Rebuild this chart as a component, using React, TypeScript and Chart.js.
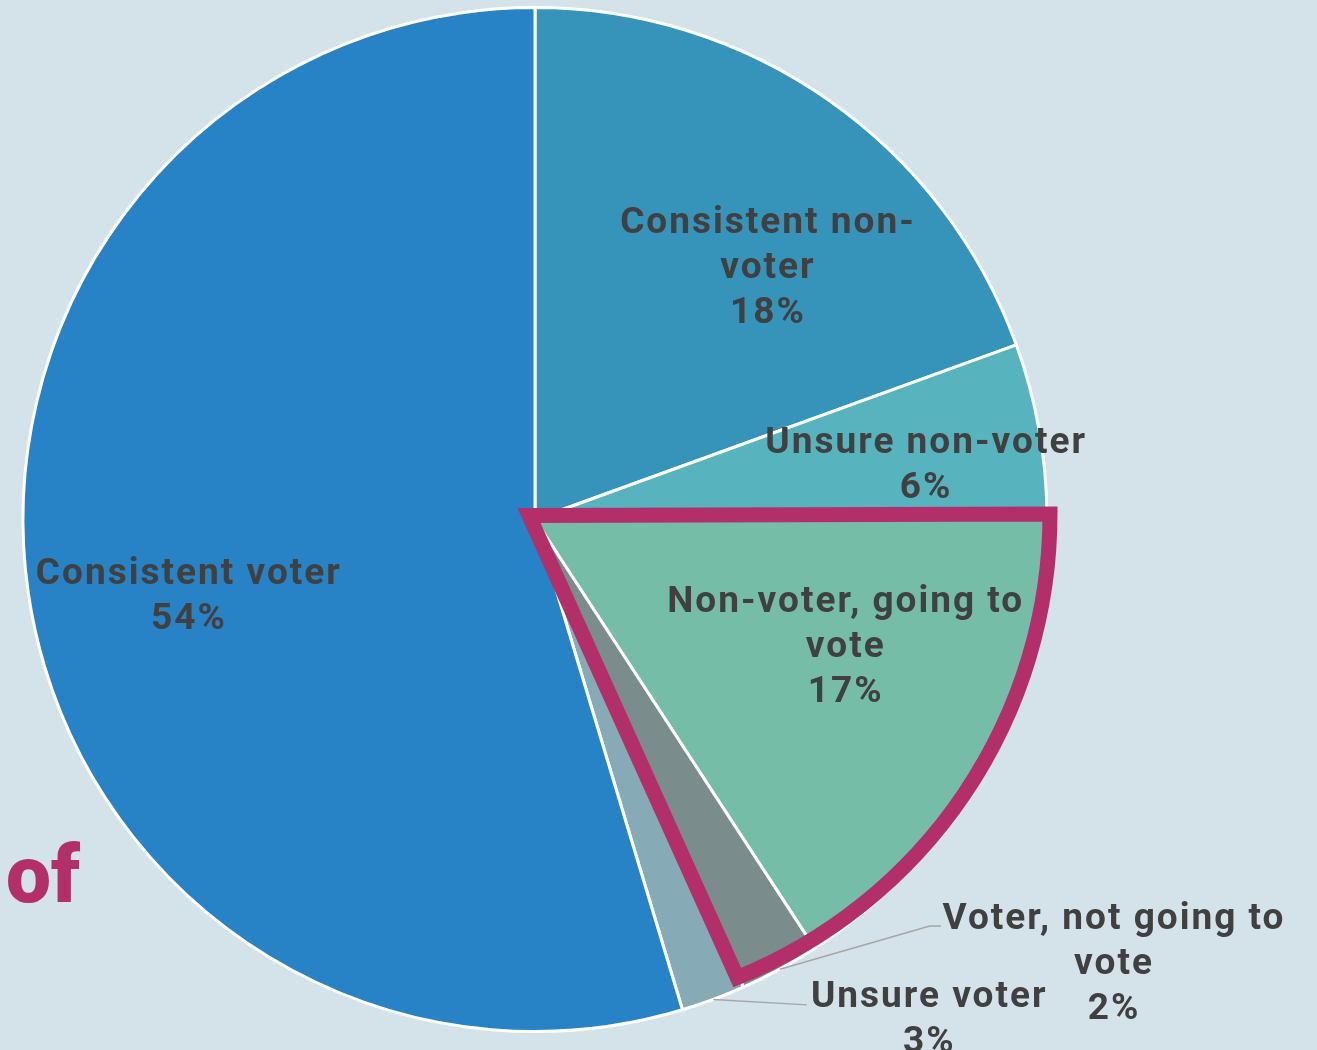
import React, { useEffect, useRef } from 'react';
import { Chart, registerables } from 'chart.js';

Chart.register(...registerables);

// ---- data ----
const categories: string[][] = [
  ['Consistent non-', 'voter'],
  ['Unsure non-voter'],
  ['Non-voter, going to', 'vote'],
  ['Voter, not going to', 'vote'],
  ['Unsure voter'],
  ['Consistent voter'],
];
const shares = [19.46, 5.4, 15.94, 2.53, 2.02, 54.65];
const shareLabels = ['18%', '6%', '17%', '2%', '3%', '54%'];
const sliceColors = ['#3693BA', '#57B4BF', '#76BDA8', '#7A8C8C', '#86ABB7', '#2782C6'];
const sideWord = 'of';

// ---- label placement (fractions of radius, relative to pie centre) ----
const labelPlacement = [
  { fx: 0.453, fy: -0.497 },
  { fx: 0.762, fy: -0.112 },
  { fx: 0.605, fy: 0.243 },
  { fx: 1.129, fy: 0.862, leader: [[0.771, 0.794], [0.793, 0.794]] },
  { fx: 0.768, fy: 0.97, leader: [[0.531, 0.948]] },
  { fx: -0.678, fy: 0.144 },
];

const BG = '#D4E2EA';
const TEXT = '#404040';
const PINK = '#B22F6A';

const labelPlugin = {
  id: 'sliceLabels',
  afterDatasetsDraw(chart: any) {
    const ctx: CanvasRenderingContext2D = chart.ctx;
    const arcs = chart.getDatasetMeta(0).data as any[];
    if (!arcs.length) return;
    const p0 = arcs[0].getProps(['x', 'y', 'outerRadius'], true);
    const cx = p0.x, cy = p0.y, R = p0.outerRadius;

    // highlight outline around "Non-voter, going to vote" + "Voter, not going to vote"
    ctx.save();
    const apexX = cx - 6, apexY = cy - 4;
    const ocx = cx + 15, ocy = cy - 5.5, orad = R - 12;
    const a0 = (90 - 90) * Math.PI / 180;
    const a1 = (158 - 90) * Math.PI / 180;
    ctx.beginPath();
    ctx.moveTo(apexX, apexY);
    ctx.lineTo(ocx + orad * Math.cos(a0), ocy + orad * Math.sin(a0));
    ctx.arc(ocx, ocy, orad, a0, a1, false);
    ctx.closePath();
    ctx.lineWidth = 15;
    ctx.lineJoin = 'miter';
    ctx.miterLimit = 10;
    ctx.strokeStyle = PINK;
    ctx.stroke();
    ctx.restore();

    // labels
    ctx.save();
    ctx.font = 'bold 37px Roboto';
    (ctx as any).letterSpacing = '2px';
    ctx.fillStyle = TEXT;
    ctx.textAlign = 'center';
    ctx.textBaseline = 'middle';
    const lineH = 45;
    arcs.forEach((arc, i) => {
      const pl = labelPlacement[i];
      const lines = [...categories[i], shareLabels[i]];
      const lx = cx + pl.fx * R + 1;
      const ly = cy + pl.fy * R + 4;
      const top = ly - ((lines.length - 1) * lineH) / 2;
      lines.forEach((t, k) => ctx.fillText(t, lx, top + k * lineH));

      if (pl.leader) {
        const p = arc.getProps(['startAngle', 'endAngle'], true);
        const mid = (p.startAngle + p.endAngle) / 2;
        ctx.beginPath();
        ctx.moveTo(cx + R * Math.cos(mid), cy + R * Math.sin(mid));
        pl.leader.forEach(([fx, fy]) => ctx.lineTo(cx + fx * R, cy + fy * R));
        ctx.lineWidth = 1.5;
        ctx.strokeStyle = '#A6A6A6';
        ctx.stroke();
      }
    });
    ctx.restore();

    // clipped side word
    ctx.save();
    ctx.font = '900 80px Roboto';
    ctx.fillStyle = PINK;
    ctx.textAlign = 'left';
    ctx.textBaseline = 'alphabetic';
    ctx.fillText(sideWord, 6, 902);
    ctx.restore();
  },
};

export default function App() {
  const ref = useRef<HTMLCanvasElement>(null);
  useEffect(() => {
    if (!ref.current) return;
    const chart = new Chart(ref.current, {
      type: 'pie',
      data: {
        labels: categories.map((c) => c.join(' ')),
        datasets: [
          {
            data: shares,
            backgroundColor: sliceColors,
            borderColor: '#FFFFFF',
            borderWidth: 3,
          },
        ],
      },
      options: {
        responsive: false,
        animation: false,
        layout: { padding: { left: 21.5, top: 6, right: 268.5, bottom: 17 } },
        plugins: { legend: { display: false }, tooltip: { enabled: false } },
      },
      plugins: [labelPlugin],
    });
    return () => chart.destroy();
  }, []);
  return (
    <div style={{ position: 'absolute', left: 0, top: 0, width: 1317, height: 1050, background: BG }}>
      <canvas ref={ref} width={1317} height={1050} style={{ display: 'block' }} />
    </div>
  );
}
